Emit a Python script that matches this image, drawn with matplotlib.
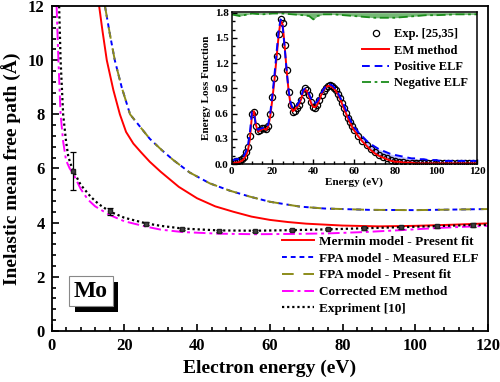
import matplotlib
matplotlib.use("Agg")
import matplotlib.pyplot as plt
from matplotlib.ticker import MultipleLocator
import matplotlib.patheffects as pe

plt.rcParams['font.family'] = ['Liberation Serif', 'DejaVu Serif']
plt.rcParams['font.weight'] = 'bold'
plt.rcParams['axes.labelweight'] = 'bold'

# main panel: IMFP curves (energy eV, path length Å)
mermin_e = [13.1, 14.0, 15.2, 17.0, 18.8, 20.5, 22.5, 24.6, 27.0, 30, 35, 40, 45, 50, 55, 60, 65, 70, 80, 90, 100, 110, 120]
mermin_l = [12.0, 11.1, 10.0, 8.9, 8.0, 7.35, 6.92, 6.6, 6.25, 5.88, 5.32, 4.9, 4.6, 4.4, 4.22, 4.1, 4.02, 3.96, 3.89, 3.86, 3.88, 3.92, 3.97]

fpa_e = [14.7, 16.0, 17.4, 19.3, 21.6, 24.3, 27.0, 30.3, 33.5, 38, 43.5, 49, 54.5, 60, 68.3, 75, 87.5, 100, 110, 120]
fpa_meas = [12.0, 11.0, 10.0, 9.0, 8.0, 7.55, 7.1, 6.68, 6.31, 5.85, 5.45, 5.18, 4.96, 4.77, 4.59, 4.52, 4.47, 4.46, 4.48, 4.5]
fpa_fit = [12.0, 11.0, 10.0, 9.0, 8.0, 7.55, 7.1, 6.68, 6.31, 5.85, 5.45, 5.18, 4.96, 4.77, 4.59, 4.52, 4.47, 4.46, 4.48, 4.5]

cem_e = [1.4, 1.9, 2.5, 3.2, 4.0, 5.0, 6.0, 8.0, 10, 12, 16, 20, 26, 30, 36, 46, 56, 66, 76, 86, 96, 106, 116, 120]
cem_l = [12.0, 10.0, 8.0, 7.0, 6.3, 6.0, 5.8, 5.25, 4.85, 4.6, 4.28, 4.05, 3.85, 3.74, 3.65, 3.59, 3.57, 3.58, 3.6, 3.65, 3.72, 3.8, 3.86, 3.88]

expfit_e = [2.1, 2.5, 3.2, 4.0, 4.6, 5.3, 6.0, 8.0, 10.8, 13, 16, 20, 26, 30, 36, 46, 56, 66, 76, 86, 96, 106, 116, 120]
expfit_l = [12.0, 10.0, 8.0, 7.0, 6.45, 6.15, 5.92, 5.4, 4.95, 4.68, 4.41, 4.18, 3.97, 3.88, 3.78, 3.71, 3.7, 3.72, 3.75, 3.79, 3.83, 3.87, 3.91, 3.92]

exp_e = [6, 16, 26, 36, 46, 56, 66, 76, 86, 96, 106, 116]
exp_l = [5.92, 4.41, 3.96, 3.77, 3.70, 3.70, 3.72, 3.75, 3.79, 3.83, 3.86, 3.91]
exp_err = [0.7, 0.12, 0.05, 0.04, 0.04, 0.04, 0.04, 0.04, 0.05, 0.05, 0.06, 0.06]

# inset: energy loss function
elf_e = list(range(0, 61)) + list(range(62, 121, 2))
elf_exp = [0.03, 0.03, 0.04, 0.04, 0.05, 0.06, 0.09, 0.14, 0.20, 0.33,
           0.60, 0.62, 0.45, 0.39, 0.41, 0.43, 0.43, 0.42, 0.46, 0.60,
           0.80, 1.02, 1.28, 1.55, 1.73, 1.68, 1.42, 1.12, 0.86, 0.70,
           0.62, 0.63, 0.67, 0.70, 0.76, 0.86, 0.90, 0.88, 0.82, 0.74,
           0.68, 0.67, 0.70, 0.76, 0.82, 0.87, 0.91, 0.93, 0.94, 0.93,
           0.91, 0.88, 0.84, 0.79, 0.73, 0.67, 0.61, 0.55, 0.50, 0.45,
           0.41,
           0.34, 0.28, 0.23, 0.18, 0.14, 0.11, 0.09, 0.07, 0.05, 0.04,
           0.03, 0.03, 0.02, 0.02, 0.02, 0.02, 0.02, 0.01, 0.01, 0.01,
           0.01, 0.01, 0.01, 0.01, 0.01, 0.01, 0.01, 0.01, 0.01, 0.01]
elf_em = [0.01, 0.01, 0.02, 0.02, 0.03, 0.04, 0.06, 0.10, 0.16, 0.30,
          0.58, 0.63, 0.46, 0.39, 0.40, 0.42, 0.42, 0.41, 0.45, 0.58,
          0.78, 1.00, 1.26, 1.52, 1.71, 1.66, 1.40, 1.10, 0.85, 0.69,
          0.63, 0.65, 0.68, 0.71, 0.77, 0.86, 0.89, 0.86, 0.80, 0.72,
          0.68, 0.68, 0.71, 0.77, 0.83, 0.88, 0.91, 0.93, 0.93, 0.92,
          0.90, 0.87, 0.83, 0.78, 0.72, 0.66, 0.60, 0.54, 0.49, 0.44,
          0.40,
          0.33, 0.27, 0.22, 0.17, 0.13, 0.10, 0.08, 0.06, 0.04, 0.03,
          0.03, 0.02, 0.02, 0.02, 0.01, 0.01, 0.01, 0.01, 0.01, 0.01,
          0.01, 0.01, 0.01, 0.01, 0.01, 0.01, 0.01, 0.01, 0.01, 0.01]
elf_pos = [0.05, 0.05, 0.06, 0.06, 0.07, 0.08, 0.10, 0.15, 0.22, 0.38,
           0.62, 0.60, 0.45, 0.41, 0.42, 0.43, 0.43, 0.43, 0.48, 0.62,
           0.83, 1.06, 1.32, 1.58, 1.72, 1.64, 1.38, 1.10, 0.86, 0.72,
           0.66, 0.67, 0.70, 0.74, 0.80, 0.88, 0.90, 0.88, 0.83, 0.77,
           0.73, 0.73, 0.75, 0.80, 0.85, 0.89, 0.92, 0.95, 0.95, 0.94,
           0.92, 0.89, 0.85, 0.80, 0.75, 0.70, 0.64, 0.58, 0.53, 0.48,
           0.44,
           0.38, 0.33, 0.28, 0.24, 0.21, 0.18, 0.16, 0.14, 0.12, 0.11,
           0.10, 0.09, 0.08, 0.07, 0.07, 0.06, 0.06, 0.05, 0.05, 0.05,
           0.04, 0.04, 0.04, 0.04, 0.04, 0.04, 0.04, 0.04, 0.04, 0.04]
neg_e = [0, 2, 4, 6, 8, 10, 15, 20, 25, 30, 35, 38, 40, 42, 45, 50, 55, 60, 65, 70, 75, 80, 85, 90, 95, 100, 110, 120]
neg_elf = [1.78, 1.77, 1.76, 1.77, 1.78, 1.79, 1.78, 1.79, 1.79, 1.78, 1.77, 1.76, 1.72, 1.76, 1.78, 1.78, 1.77, 1.76, 1.75, 1.74, 1.74, 1.74, 1.75, 1.76, 1.77, 1.77, 1.78, 1.78]

fig = plt.figure(figsize=(5, 3.82), dpi=100)
ax = fig.add_axes([0.103, 0.134, 0.873, 0.85])

ax.plot(mermin_e, mermin_l, color='red', lw=1.4, label='Mermin model - Present fit')
ax.plot(fpa_e, fpa_meas, color='blue', lw=1.4, ls=(0, (2.5, 2)), label='FPA model - Measured ELF')
ax.plot(fpa_e, fpa_fit, color='#8c8c1a', lw=1.4, ls=(0, (6, 5)), label='FPA model - Present fit')
ax.plot(cem_e, cem_l, color='magenta', lw=1.4, ls=(0, (6, 2, 1.5, 2)), label='Corrected EM method')
ax.plot(expfit_e, expfit_l, color='black', lw=1.6, ls=(0, (1, 1.3)), label='Expriment [10]')
ax.errorbar(exp_e, exp_l, yerr=exp_err, fmt='s', ms=2.5, color='#222222', mfc='#444444',
            ecolor='black', elinewidth=0.9, capsize=2.5, capthick=0.9)

ax.set_xlim(0, 120)
ax.set_ylim(0, 12)
ax.xaxis.set_major_locator(MultipleLocator(20))
ax.xaxis.set_minor_locator(MultipleLocator(4))
ax.yaxis.set_major_locator(MultipleLocator(2))
ax.yaxis.set_minor_locator(MultipleLocator(0.4))
ax.tick_params(which='both', direction='in', top=False, right=False, width=1.2)
ax.tick_params(which='major', length=5, labelsize=12, pad=5)
ax.tick_params(which='minor', length=3)
for s in ax.spines.values():
    s.set_linewidth(1.3)
ax.set_xlabel('Electron energy (eV)', fontsize=14, labelpad=4)
ax.set_ylabel('Inelastic mean free path (Å)', fontsize=14, labelpad=4)

ax.legend(loc='lower right', frameon=False, fontsize=9.5, handlelength=2.4,
          labelspacing=0.35, handletextpad=0.4, borderaxespad=0.3,
          bbox_to_anchor=(1.0, 0.02))

t = ax.text(0.09, 0.122, 'Mo', transform=ax.transAxes, fontsize=17, ha='center', va='center',
            bbox=dict(boxstyle='square,pad=0.2', fc='white', ec='#888888', lw=0.8))
t.get_bbox_patch().set_path_effects([pe.SimplePatchShadow(offset=(4, -4), shadow_rgbFace='black', alpha=1.0),
                                     pe.Normal()])

# inset
ins = fig.add_axes([0.463, 0.570, 0.491, 0.399])
ins.fill_between(neg_e, neg_elf, 1.8, color='#3a9a3a', alpha=0.7, lw=0)
ins.fill_between(elf_e, elf_em, elf_pos, color='#8080ff', alpha=0.5, lw=0)
ins.plot(elf_e, elf_exp, 'o', ms=4.5, mfc='none', mec='black', mew=0.9, label='Exp. [25,35]')
ins.plot(elf_e, elf_em, color='red', lw=1.4, label='EM method')
ins.plot(elf_e, elf_pos, color='blue', lw=1.4, ls=(0, (4, 2.5)), label='Positive ELF')
ins.plot(neg_e, neg_elf, color='#1a8c1a', lw=1.3, ls=(0, (5, 2, 1.5, 2)), label='Negative ELF')
ins.set_xlim(0, 120)
ins.set_ylim(0, 1.81)
ins.xaxis.set_major_locator(MultipleLocator(20))
ins.xaxis.set_minor_locator(MultipleLocator(5))
ins.yaxis.set_major_locator(MultipleLocator(0.3))
ins.yaxis.set_minor_locator(MultipleLocator(0.1))
ins.tick_params(which='both', direction='in', top=False, right=False, width=1.0)
ins.tick_params(which='major', length=3.5, labelsize=8, pad=2)
ins.tick_params(which='minor', length=2)
for s in ins.spines.values():
    s.set_linewidth(1.1)
ins.set_xlabel('Energy (eV)', fontsize=8, labelpad=1)
ins.set_ylabel('Energy Loss Function', fontsize=8, labelpad=3)
ins.legend(loc='upper right', frameon=False, fontsize=9, handlelength=2.2,
           labelspacing=0.35, handletextpad=0.4, borderaxespad=0.3,
           bbox_to_anchor=(1.0, 0.95))

fig.savefig('out.png', dpi=100)
